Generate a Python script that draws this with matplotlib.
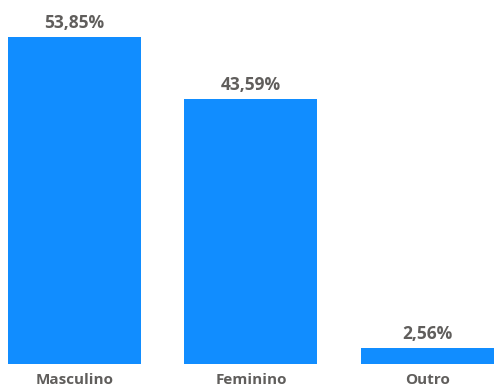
import matplotlib.pyplot as plt

categories = ["Masculino", "Feminino", "Outro"]
values = [53.85, 43.59, 2.56]
labels = ["53,85%", "43,59%", "2,56%"]

bar_color = "#118DFF"
text_color = "#605E5C"

plt.rcParams["font.family"] = ["Open Sans", "DejaVu Sans"]

fig = plt.figure(figsize=(4.94, 3.89), dpi=100)
ax = fig.add_axes([0, 25 / 389, 1, 364 / 389])

x = list(range(len(categories)))
ax.bar(x, values, width=0.7535, color=bar_color)

for xi, v, lab in zip(x, values, labels):
    ax.annotate(lab, (xi, v), xytext=(0, 6.5), textcoords="offset points",
                ha="center", va="baseline", fontsize=12.5, fontweight="bold",
                color=text_color)

ax.set_xlim(-0.422, 2.377)
ax.set_ylim(0, 59.95)
ax.set_xticks(x)
ax.set_xticklabels(categories, fontsize=11, fontweight="bold", color=text_color)
ax.tick_params(axis="x", length=0, pad=6.5)
ax.set_yticks([])
for s in ax.spines.values():
    s.set_visible(False)

fig.savefig("out.png", dpi=100)
